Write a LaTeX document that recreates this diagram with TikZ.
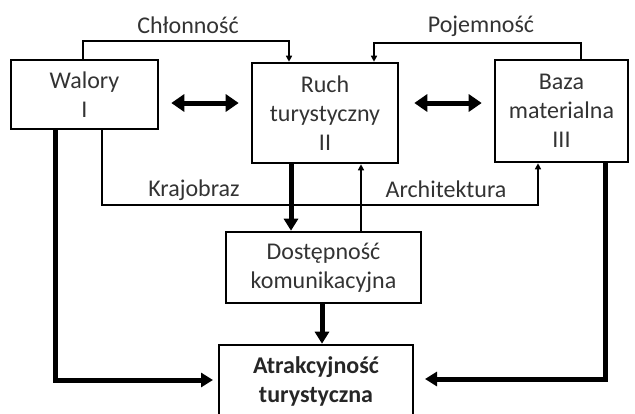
\documentclass[tikz,border=0pt]{standalone}
\usepackage{fontspec}
\setmainfont{Carlito}
\usetikzlibrary{arrows.meta}
\usetikzlibrary{positioning}
\definecolor{txtgray}{HTML}{333333}

\begin{document}
\begin{tikzpicture}[x=1pt,y=-1pt,>={Triangle[length=6pt,width=6pt]},semithick]
 \tikzstyle{box node}=[rectangle,draw,line width=2.6pt,align=center,inner sep=0pt,font=\fontsize{24}{29}\selectfont,text=txtgray]
 \tikzstyle{label node}=[inner sep=0pt,font=\fontsize{24}{29}\selectfont,text=txtgray]
 \tikzstyle{thin line}=[line width=2.2pt]
 \tikzset{
 	thick line/.style={line width=5pt,-{Triangle[length=12pt,width=14pt]}},
 	both arrow/.style={line width=5pt,{Triangle[length=13pt,width=17pt]}-{Triangle[length=13pt,width=17pt]}}
 }

 \useasboundingbox (0,0) rectangle (635,413);

       \node[box node,minimum width=147pt,minimum height=69pt] (wal) at (84.5,94.5) {Walory\\I};
       \node[box node,minimum width=146pt,minimum height=100pt] (ruch) at (325,113) {Ruch\\turystyczny\\II};
       \node[box node,minimum width=133pt,minimum height=102pt] (baza) at (561.5,111) {Baza\\materialna\\III};
       \node[box node,minimum width=195pt,minimum height=71pt] (dost) at (323.5,267.5) {Dostępność\\komunikacyjna};
       \node[box node,minimum width=194pt,minimum height=72pt,font=\fontsize{24}{29}\selectfont\bfseries,text=black!85] (atr) at (316,381) {Atrakcyjność\\turystyczna};

       \node[label node] (chl) at (188,25) {Chłonność};
       \node[label node] (poj) at (481,26) {Pojemność};
       \node[label node] (kraj) at (194,190) {Krajobraz};
       \node[label node] (arch) at (446,189) {Architektura};

       \coordinate (chlL) at (83,41);
       \coordinate (chlR) at (289,41);
       \coordinate (pojL) at (374,43);
       \coordinate (pojR) at (581,43);
       \coordinate (kraL) at (102,205);
       \coordinate (arcR) at (538,205);
       \coordinate (rx) at (291,200);
       \coordinate (ux) at (361,200);
       \coordinate (dx) at (322,320);
       \coordinate (lc) at (55,380);
       \coordinate (lt) at (213,380);
       \coordinate (rc) at (605,379);
       \coordinate (rt) at (425,379);

     \draw[thin line,->] (wal.north -| chlL) -- (chlL) -- (chlR) -- (ruch.north -| chlR);
     \draw[thin line,->] (baza.north -| pojR) -- (pojR) -- (pojL) -- (ruch.north -| pojL);
     \draw[thin line,->] (wal.south -| kraL) -- (kraL) -- (arcR) -- (baza.south -| arcR);

     \draw[both arrow] ([xshift=12pt,yshift=-8.5pt]wal.east) -- ([xshift=-12pt,yshift=10pt]ruch.west);
     \draw[both arrow] ([xshift=15pt,yshift=10pt]ruch.east) -- ([xshift=-12pt,yshift=8pt]baza.west);

     \draw[thick line] (ruch.south -| rx) -- (dost.north -| rx);
     \draw[thin line,->] (dost.north -| ux) -- (ruch.south -| ux);
     \draw[thick line] (dost.south -| dx) -- (atr.north -| dx);

     \draw[thick line] (wal.south -| lc) -- (lc) -- (lt);
     \draw[thick line] (baza.south -| rc) -- (rc) -- (rt);
 \end{tikzpicture}
\end{document}
